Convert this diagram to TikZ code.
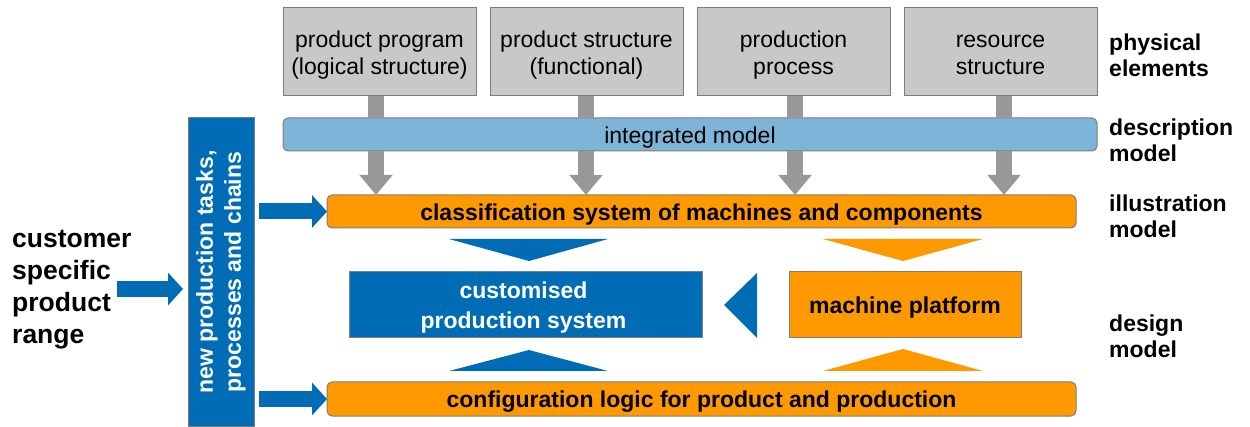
\documentclass[tikz,border=0pt]{standalone}
\usepackage{fontspec}
\setmainfont{Liberation Sans}
\usetikzlibrary{arrows.meta}

\definecolor{boxgray}{RGB}{200,200,200}
\definecolor{edgegray}{RGB}{125,125,125}
\definecolor{stemgray}{RGB}{152,152,152}
\definecolor{lightblue}{RGB}{126,180,216}
\definecolor{deeporange}{RGB}{255,153,0}
\definecolor{deepblue}{RGB}{0,108,182}

\tikzset{
  base/.style={inner sep=0pt, outer sep=0pt, line width=1pt, draw=edgegray},
  physbox/.style={base, fill=boxgray, minimum width=193pt, minimum height=88pt, anchor=north west},
  barbox/.style={base, rounded corners=5pt, anchor=north west, minimum height=33pt},
  orangebar/.style={barbox, fill=deeporange, minimum width=749pt},
  designbox/.style={base, anchor=north west, minimum height=66pt},
  % text set inside the boxes, sitting a little below the geometric centre
  boxtext/.style={inner sep=0pt, align=center, yshift=-3pt, font=\fontsize{23}{27}\selectfont},
  boldtext/.style={boxtext, font=\fontsize{23}{30}\selectfont\bfseries},
  levellabel/.style={anchor=west, align=left, inner sep=0pt, font=\fontsize{23}{26}\selectfont\bfseries},
  graystem/.style={draw=stemgray, line width=16pt},
  grayarrow/.style={draw=stemgray, line width=16pt, -{Triangle[width=32pt,length=20pt]}},
  bluearrow/.style={draw=deepblue, line width=16pt, -{Triangle[width=32pt,length=15pt]}},
}

\begin{document}
\begin{tikzpicture}[x=1pt,y=-1pt]
\useasboundingbox (0,0) rectangle (1250,427);

% physical elements
\node[physbox] (g1) at (283,8) {};
\node[physbox] (g2) at (490,8) {};
\node[physbox] (g3) at (697,8) {};
\node[physbox] (g4) at (904,8) {};
\node[boxtext] (g1t) at (g1) {product program\\(logical structure)};
\node[boxtext] (g2t) at (g2) {product structure\\(functional)};
\node[boxtext] (g3t) at (g3) {production\\process};
\node[boxtext] (g4t) at (g4) {resource\\structure};

% description model
\node[barbox, fill=lightblue, minimum width=814pt] (im) at (283,118) {};
\node[boxtext] (imt) at (im) {integrated model};

% illustration and configuration levels
\node[orangebar] (cls) at (327,195) {};
\node[orangebar, minimum height=34pt] (cfg) at (327,382) {};
\node[boldtext] (clst) at (cls) {classification system of machines and components};
\node[boldtext] (cfgt) at (cfg) {configuration logic for product and production};

% design model
\node[designbox, fill=deepblue, minimum width=353pt] (cps) at (349,272) {};
\node[designbox, fill=deeporange, minimum width=232pt] (mp) at (789,272) {};
\node[boldtext, text=white, xshift=-2pt] (cpst) at (cps) {customised\\production system};
\node[boldtext] (mpt) at (mp) {machine platform};

% new production tasks
\node[base, fill=deepblue, anchor=north west, minimum width=66pt, minimum height=308pt] (nv) at (188,118) {};
\node[rotate=90, align=center, text=white, inner sep=0pt,
  font=\fontsize{23}{28}\selectfont\bfseries] (nvt) at (nv.center) {new production tasks,\\processes and chains};

% customer input
\node[anchor=west, align=left, inner sep=0pt, yshift=-3pt, font=\fontsize{26.5}{32}\selectfont\bfseries]
  (cust) at (12,287) {customer\\specific\\product\\range};

% level labels
\node[levellabel] (l1) at (1109,55) {physical\\elements};
\node[levellabel] (l2) at (1109,140) {description\\model};
\node[levellabel] (l3) at (1109,216.5) {illustration\\model};
\node[levellabel] (l4) at (1109,336.5) {design\\model};

% gray flows from the physical elements down to the classification system
\coordinate (x1) at (376,0);
\coordinate (x2) at (586,0);
\coordinate (x3) at (795,0);
\coordinate (x4) at (1004,0);
\foreach \i/\g in {1/g1,2/g2,3/g3,4/g4}{
  \draw[graystem] (\g.south -| x\i) -- (im.north -| x\i);
  \draw[grayarrow] (im.south -| x\i) -- (cls.north -| x\i);
}

% blue inputs
\coordinate (ca) at (117,289);
\draw[bluearrow, shorten >=5pt] (ca) -- (ca -| nv.west);
\draw[bluearrow, shorten <=5pt] (nv.east |- cls.west) -- (cls.west);
\draw[bluearrow, shorten <=5pt] (nv.east |- cfg.west) -- (cfg.west);

% flat chevrons between the levels
\fill[deepblue] (449,239) -- (608,239) -- (529,261) -- cycle;
\fill[deepblue] (449,371) -- (608,371) -- (529,350) -- cycle;
\fill[deepblue] (757,273) -- (757,338) -- (724,305) -- cycle;
\fill[deeporange] (823,239) -- (983,239) -- (903,261) -- cycle;
\fill[deeporange] (823,371) -- (983,371) -- (903,349) -- cycle;
\end{tikzpicture}
\end{document}
